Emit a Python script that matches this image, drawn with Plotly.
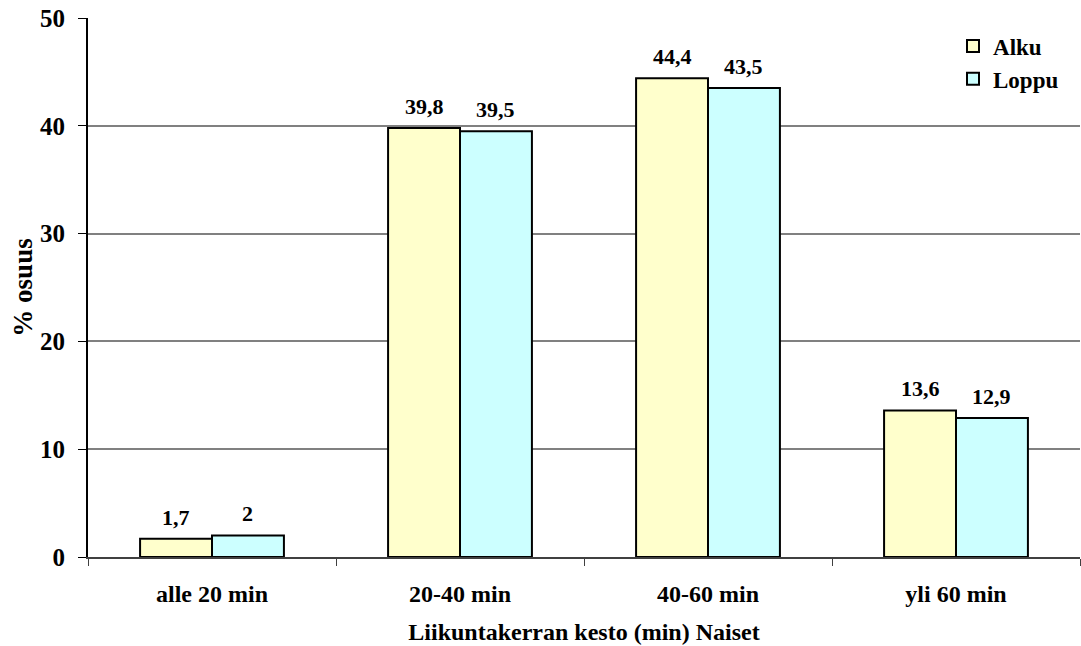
import plotly.graph_objects as go

categories = ["alle 20 min", "20-40 min", "40-60 min", "yli 60 min"]
alku = [1.7, 39.8, 44.4, 13.6]
loppu = [2.0, 39.5, 43.5, 12.9]
y_ticks = [0, 10, 20, 30, 40, 50]


def fi_label(v):
    s = f"{v:.1f}".replace(".", ",")
    return s[:-2] if s.endswith(",0") else s


FONT = "Liberation Serif, Times New Roman, serif"
BAR_GAP = 0.42
PLOT_W = 1081 - 88 - 1
CAT_W = PLOT_W / len(categories)
HALF_BAR = CAT_W * (1 - BAR_GAP) / 4  # centre offset of each bar in a pair

series = [("Alku", alku, "#FFFFCC", -HALF_BAR), ("Loppu", loppu, "#CCFFFF", HALF_BAR)]

fig = go.Figure()
annotations = []
for name, vals, color, shift in series:
    fig.add_trace(go.Bar(
        x=categories, y=vals, name=f"<b>{name}</b>",
        marker=dict(color=color, line=dict(color="black", width=2)),
    ))
    for cat, v in zip(categories, vals):
        annotations.append(dict(
            x=cat, y=v, xref="x", yref="y", xshift=shift, yshift=7,
            yanchor="bottom", showarrow=False,
            text=f"<b>{fi_label(v)}</b>",
            font=dict(family=FONT, size=22, color="black"),
        ))

fig.update_layout(
    width=1081, height=646,
    margin=dict(l=88, r=1, t=18, b=89),
    paper_bgcolor="white", plot_bgcolor="white",
    barmode="group", bargap=BAR_GAP, bargroupgap=0,
    font=dict(family=FONT, color="black"),
    annotations=annotations,
    showlegend=True,
    legend=dict(
        x=0.872, y=0.988, xanchor="left", yanchor="top",
        font=dict(family=FONT, size=23, color="black"),
        bgcolor="rgba(0,0,0,0)", itemwidth=30, tracegroupgap=0,
    ),
    xaxis=dict(
        range=[-0.5, 3.5], showgrid=False, zeroline=False,
        showline=True, linecolor="#404040", linewidth=2,
        tickson="boundaries", ticks="outside", ticklen=7, tickcolor="#404040",
        ticklabelstandoff=14,
        tickfont=dict(family=FONT, size=24, color="black"),
        tickprefix="<b>", ticksuffix="</b>",
        title=dict(text="<b>Liikuntakerran kesto (min) Naiset</b>",
                   font=dict(family=FONT, size=24, color="black"), standoff=17),
    ),
    yaxis=dict(
        range=[0, 50], tickvals=y_ticks,
        ticktext=[f"<b>{t}</b>" for t in y_ticks],
        showgrid=True, gridcolor="#808080", gridwidth=2, zeroline=False,
        showline=True, linecolor="black", linewidth=2,
        ticks="outside", ticklen=8, tickcolor="black",
        ticklabelstandoff=8,
        tickfont=dict(family=FONT, size=25, color="black"),
        title=dict(text="<b>% osuus</b>",
                   font=dict(family=FONT, size=27, color="black"), standoff=0),
    ),
)

fig.write_html("out.html")
